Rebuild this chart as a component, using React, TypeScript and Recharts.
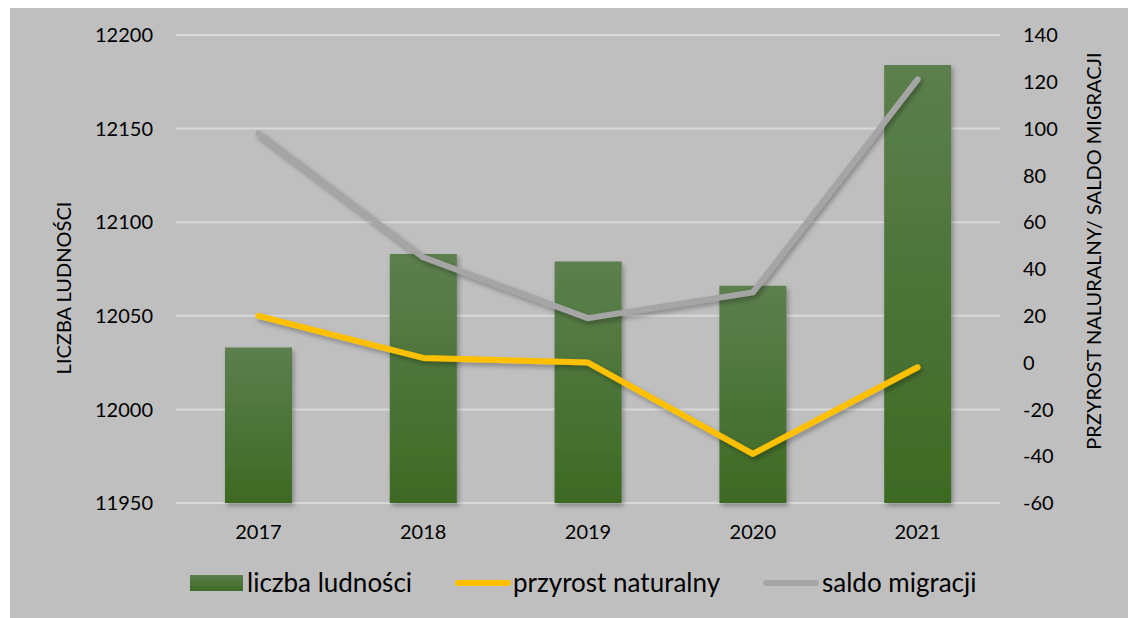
import React from 'react';
import {
  ComposedChart, Bar, Line, XAxis, YAxis, CartesianGrid, Legend,
} from 'recharts';

const years = ['2017', '2018', '2019', '2020', '2021'];
const population = [12033, 12083, 12079, 12066, 12184];
const naturalGrowth = [20, 2, 0, -39, -2];
const migrationBalance = [98, 45, 19, 30, 121];

const leftTicks = [11950, 12000, 12050, 12100, 12150, 12200];
const rightTicks = [-60, -40, -20, 0, 20, 40, 60, 80, 100, 120, 140];

const leftTitle = 'LICZBA LUDNOŚCI';
const rightTitle = 'PRZYROST NALURALNY/ SALDO MIGRACJI';

const data = years.map((y, i) => ({
  year: y,
  pop: population[i],
  growth: naturalGrowth[i],
  migration: migrationBalance[i],
}));

const FONT = 'Lato, Carlito, Calibri, sans-serif';

const legendItems = [
  { key: 'pop', label: 'liczba ludności', kind: 'rect', color: '#4a7434', left: 180, textLeft: 237 },
  { key: 'growth', label: 'przyrost naturalny', kind: 'line', color: '#ffc000', left: 445, textLeft: 503 },
  { key: 'migration', label: 'saldo migracji', kind: 'line', color: '#a5a5a5', left: 753, textLeft: 812 },
];

const renderLegend = () => (
  <div style={{ position: 'relative', width: 1126, height: 40, fontFamily: FONT }}>
    {legendItems.map((it) => (
      <React.Fragment key={it.key}>
        {it.kind === 'rect' ? (
          <div style={{
            position: 'absolute', left: it.left, top: 13, width: 53, height: 16,
            background: 'linear-gradient(#5b7f4d, #3e6a24)',
          }} />
        ) : (
          <div style={{
            position: 'absolute', left: it.left, top: 18, width: 56, height: 6,
            borderRadius: 3, background: it.color,
          }} />
        )}
        <div style={{
          position: 'absolute', left: it.textLeft, top: 3, fontSize: 26,
          color: '#000', whiteSpace: 'nowrap', lineHeight: '34px',
        }}>{it.label}</div>
      </React.Fragment>
    ))}
  </div>
);

const makeTitle = (text: string, dxFromLeft: number, dy: number) => (props: any) => {
  const vb = props.viewBox || {};
  const cx = vb.x + dxFromLeft;
  const cy = vb.y + vb.height / 2 + dy;
  return (
    <text
      x={cx}
      y={cy}
      transform={`rotate(-90, ${cx}, ${cy})`}
      textAnchor="middle"
      dominantBaseline="central"
      fill="#000"
      fontSize={20}
      fontFamily={FONT}
    >
      {text}
    </text>
  );
};

export default function App() {
  return (
    <div style={{ marginLeft: 2, width: 1126, height: 610, background: '#bfbfbf', position: 'relative' }}>
      <ComposedChart
        width={1126}
        height={610}
        data={data}
        margin={{ top: 27, right: 0, bottom: 0, left: 0 }}
        style={{ fontFamily: FONT }}
      >
        <defs>
          <linearGradient id="barGrad" x1="0" y1="0" x2="0" y2="1">
            <stop offset="0%" stopColor="#5c7f4e" />
            <stop offset="100%" stopColor="#3d6a23" />
          </linearGradient>
          <filter id="shadow" x="-20%" y="-20%" width="140%" height="140%">
            <feDropShadow dx="2" dy="3" stdDeviation="2.5" floodColor="#000" floodOpacity="0.3" />
          </filter>
        </defs>
        <CartesianGrid horizontal vertical={false} stroke="#d9d9d9" strokeWidth={2} yAxisId="left" />
        <XAxis
          dataKey="year"
          height={75}
          axisLine={false}
          tickLine={false}
          tickSize={8}
          tickMargin={14}
          tick={{ fill: '#000', fontSize: 20, fontFamily: FONT }}
        />
        <YAxis
          yAxisId="left"
          orientation="left"
          width={166}
          domain={[11950, 12200]}
          ticks={leftTicks}
          axisLine={false}
          tickLine={false}
          tickSize={8}
          tickMargin={15}
          tick={{ fill: '#000', fontSize: 20, fontFamily: FONT }}
          label={makeTitle(leftTitle, 53, 19)}
        />
        <YAxis
          yAxisId="right"
          orientation="right"
          width={136}
          domain={[-60, 140]}
          ticks={rightTicks}
          axisLine={false}
          tickLine={false}
          tickSize={8}
          tickMargin={15}
          tick={{ fill: '#000', fontSize: 20, fontFamily: FONT }}
          label={makeTitle(rightTitle, 93, -18)}
        />
        <Bar
          yAxisId="left"
          dataKey="pop"
          name="liczba ludności"
          barSize={67}
          fill="url(#barGrad)"
          filter="url(#shadow)"
          isAnimationActive={false}
        />
        <Line
          yAxisId="right"
          dataKey="growth"
          name="przyrost naturalny"
          type="linear"
          stroke="#ffc000"
          strokeWidth={6}
          strokeLinecap="round"
          strokeLinejoin="round"
          dot={false}
          activeDot={false}
          filter="url(#shadow)"
          isAnimationActive={false}
        />
        <Line
          yAxisId="right"
          dataKey="migration"
          name="saldo migracji"
          type="linear"
          stroke="#a5a5a5"
          strokeWidth={6}
          strokeLinecap="round"
          strokeLinejoin="round"
          dot={false}
          activeDot={false}
          filter="url(#shadow)"
          isAnimationActive={false}
        />
        <Legend
          content={renderLegend}
          wrapperStyle={{ position: 'absolute', left: 0, top: 554, width: 1126 }}
        />
      </ComposedChart>
    </div>
  );
}
